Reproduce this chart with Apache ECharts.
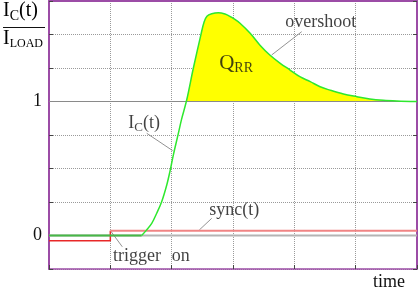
<!DOCTYPE html>
<html><head><meta charset="utf-8">
<script src="https://cdn.jsdelivr.net/npm/echarts@6/dist/echarts.min.js"></script>
<style>html,body{margin:0;padding:0;background:#fff}#c{width:418px;height:291px}</style>
</head><body><div id="c"></div>
<script>
// ---- data ----
const curveX = [0, 1.51, 1.59, 1.675, 1.756, 1.837, 1.92, 1.973, 2.027, 2.108, 2.16, 2.245, 2.353, 2.478, 2.53, 2.575, 2.653, 2.76, 2.87, 2.95, 3.005, 3.11, 3.28, 3.44, 3.60, 3.77, 3.93, 4.09, 4.26, 4.42, 4.58, 4.80, 5.02, 5.23, 5.45, 5.67, 6.0];
const curveY = [0, 0, 0.04, 0.09, 0.166, 0.252, 0.377, 0.48, 0.6, 0.76, 0.865, 1.011, 1.248, 1.501, 1.595, 1.637, 1.655, 1.663, 1.653, 1.635, 1.621, 1.586, 1.509, 1.42, 1.347, 1.285, 1.235, 1.185, 1.148, 1.110, 1.085, 1.056, 1.036, 1.019, 1.009, 1.004, 1.0];
const syncBeforeX = [0, 1, 1];
const syncBeforeY = [-0.04, -0.04, 0.035];
const syncAfterX = [1, 6];
const syncAfterY = [0.035, 0.035];
const baseX = [0, 6];
const baseY = [0, 0];
const refY = [1, 1];
const yTickLabels = {0: '0', 1: '1'};
const annotX = [4.43, 3.05, 1.55, 3.02, 1.435, 2.15];
const annotY = [1.595, 1.287, 0.84, 0.19, -0.153, -0.153];
const annotText = ['overshoot', '{q|Q}{qs|RR}', '{m|I}{s|C}{m|(t)}', 'sync(t)', 'trigger', 'on'];
const leaders = [
  [[4.12, 1.521], [3.63, 1.347]],
  [[1.593, 0.763], [2.017, 0.633]],
  [[2.653, 0.128], [2.45, 0.041]],
  [[1.005, 0.034], [1.195, -0.084]]
];

const zip = (xs, ys) => xs.map((x, i) => [x, ys[i]]);
const riseStart = curveY.findIndex((v, i) => i > 0 && v > 0) - 1;
const fillStart = curveY.findIndex(v => v >= 1);
const flatPart = zip(curveX.slice(0, riseStart + 1), curveY.slice(0, riseStart + 1));
const risePart = zip(curveX.slice(riseStart), curveY.slice(riseStart));
const fillPart = zip(curveX.slice(fillStart), curveY.slice(fillStart));

const FONT = 'Liberation Serif';
const PURPLE = '#9c4ca6';
const rich = {
  m: {fontSize: 18, fontFamily: FONT, color: '#111'},
  s: {fontSize: 13, fontFamily: FONT, color: '#111', padding: [9, 0, 0, 0]},
  tm: {fontSize: 20, fontFamily: FONT, color: '#111'},
  ts: {fontSize: 14, fontFamily: FONT, color: '#111', padding: [10, 0, 0, 0]},
  tl: {fontSize: 12, fontFamily: FONT, color: '#111', padding: [10, 0, 0, 0]},
  q: {fontSize: 21, fontFamily: FONT, color: '#111'},
  qs: {fontSize: 14, fontFamily: FONT, color: '#111', padding: [10, 0, 0, 0]}
};

const chart = echarts.init(document.getElementById('c'));
const splitStyle = {show: true, lineStyle: {color: '#9a9a9a', width: 1, type: [1, 1]}};
chart.setOption({
  animation: false,
  textStyle: {fontFamily: FONT},
  grid: {left: 49, right: 1, top: 1, bottom: 22},
  xAxis: [
    {type: 'value', min: 0, max: 6, interval: 1, position: 'bottom',
     axisLine: {show: true, onZero: false, lineStyle: {color: PURPLE, width: 1.5}},
     axisTick: {show: true, inside: true, length: 4, lineStyle: {color: '#444'}},
     axisLabel: {show: false}, splitLine: splitStyle},
    {type: 'value', min: 0, max: 6, interval: 1, position: 'top',
     axisLine: {show: true, onZero: false, lineStyle: {color: PURPLE, width: 2}},
     axisTick: {show: false}, axisLabel: {show: false}, splitLine: {show: false}}
  ],
  yAxis: [
    {type: 'value', min: -0.25, max: 1.75, interval: 0.25, position: 'left',
     axisLine: {show: true, onZero: false, lineStyle: {color: PURPLE, width: 2}},
     axisTick: {show: true, inside: true, length: 4, lineStyle: {color: '#444'}},
     axisLabel: {show: true, margin: 7, fontSize: 18, fontFamily: FONT, color: '#111',
       formatter: v => yTickLabels[v] !== undefined ? yTickLabels[v] : ''},
     splitLine: splitStyle},
    {type: 'value', min: -0.25, max: 1.75, interval: 0.25, position: 'right',
     axisLine: {show: true, onZero: false, lineStyle: {color: PURPLE, width: 2}},
     axisTick: {show: true, inside: true, length: 4, lineStyle: {color: '#444'}},
     axisLabel: {show: false}, splitLine: {show: false}}
  ],
  series: [
    {type: 'line', data: zip(baseX, baseY), symbol: 'none', lineStyle: {color: '#b4b4b4', width: 2}, z: 2},
    {type: 'line', data: zip(baseX, refY), symbol: 'none', lineStyle: {color: '#8a8a8a', width: 1}, z: 2},
    {type: 'line', data: fillPart, symbol: 'none', smooth: 0.35, lineStyle: {width: 0},
     areaStyle: {color: '#ffff00', opacity: 1, origin: 1}, z: 3},
    {type: 'line', data: zip(baseX, refY), symbol: 'none', lineStyle: {color: '#8a8a8a', width: 1}, z: 4},
    {type: 'line', data: zip(syncBeforeX, syncBeforeY), symbol: 'none', lineStyle: {color: '#e82828', width: 1.5}, z: 5},
    {type: 'line', data: zip(syncAfterX, syncAfterY), symbol: 'none', lineStyle: {color: '#f08484', width: 2}, z: 5},
    {type: 'line', data: flatPart, symbol: 'none', lineStyle: {color: '#46b846', width: 2}, z: 6},
    {type: 'line', data: risePart, symbol: 'none', smooth: 0.35, lineStyle: {color: '#2ee82e', width: 1.5}, z: 6},
    {type: 'scatter', data: zip(annotX, annotY), symbolSize: 0, z: 8,
     label: {show: true, position: 'inside', fontSize: 18, fontFamily: FONT, color: '#111',
       formatter: p => annotText[p.dataIndex], rich: rich},
     markLine: {silent: true, symbol: 'none', label: {show: false},
       lineStyle: {color: '#777', width: 0.8, type: 'solid'},
       data: leaders.map(l => [{coord: l[0]}, {coord: l[1]}])}}
  ],
  graphic: [
    {type: 'text', left: 3, top: 1, style: {rich: rich, text: '{tm|I}{ts|C}{tm|(t)}'}},
    {type: 'line', shape: {x1: 3, y1: 27.5, x2: 45, y2: 27.5}, style: {stroke: '#111', lineWidth: 1}},
    {type: 'text', left: 3, top: 29, style: {rich: rich, text: '{tm|I}{tl|LOAD}'}},
    {type: 'text', left: 373, top: 273, style: {text: 'time', fontSize: 18, fontFamily: FONT, fill: '#111'}}
  ]
});
</script></body></html>
